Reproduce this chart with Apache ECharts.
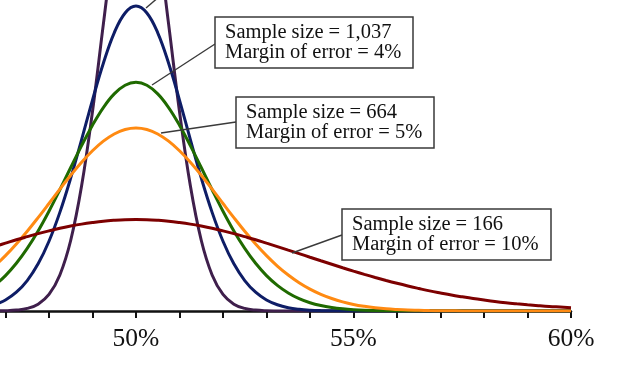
<!DOCTYPE html>
<html>
<head>
<meta charset="utf-8">
<script src="https://cdn.jsdelivr.net/npm/echarts@6/dist/echarts.min.js"></script>
<style>html,body{margin:0;padding:0;background:#fff}#c{width:620px;height:372px}</style>
</head>
<body>
<div id="c"></div>
<script>
// x positions (percent)
var xs = [46.75,47,47.25,47.5,47.75,48,48.25,48.5,48.75,49,49.25,49.5,49.75,
  50,50.25,50.5,50.75,51,51.25,51.5,51.75,52,52.25,52.5,52.75,53,53.25,53.5,53.75,
  54,54.25,54.5,54.75,55,55.25,55.5,55.75,56,56.25,56.5,56.75,57,57.25,57.5,57.75,
  58,58.25,58.5,58.75,59,59.25,59.5,59.75,60];

// relative likelihood (density per percentage point)
var n166 = [0.0724,0.0762,0.0800,0.0835,0.0869,0.0900,0.0929,0.0954,0.0976,0.0994,0.1009,0.1019,0.1026,
  0.1028,0.1026,0.1019,0.1009,0.0994,0.0976,0.0954,0.0929,0.0900,0.0869,0.0835,0.0800,0.0762,0.0724,0.0684,0.0645,
  0.0604,0.0564,0.0525,0.0486,0.0448,0.0412,0.0377,0.0343,0.0311,0.0281,0.0253,0.0226,0.0202,0.0179,0.0159,0.0140,
  0.0123,0.0107,0.0093,0.0081,0.0070,0.0060,0.0051,0.0044,0.0037];
var n664 = [0.0505,0.0622,0.0753,0.0896,0.1049,0.1208,0.1369,0.1525,0.1671,0.1800,0.1908,0.1989,0.2039,
  0.2056,0.2039,0.1989,0.1908,0.1800,0.1671,0.1525,0.1369,0.1208,0.1049,0.0896,0.0753,0.0622,0.0505,0.0404,0.0317,
  0.0245,0.0186,0.0140,0.0103,0.0074,0.0053,0.0037,0.0025,0.0017,0.0011,0.0008,0.0005,0.0003,0.0002,0.0001,0.0001,
  0,0,0,0,0,0,0,0,0];
var n1037 = [0.0288,0.0398,0.0536,0.0703,0.0899,0.1121,0.1362,0.1612,0.1858,0.2088,0.2286,0.2439,0.2536,
  0.2569,0.2536,0.2439,0.2286,0.2088,0.1858,0.1612,0.1362,0.1121,0.0899,0.0703,0.0536,0.0398,0.0288,0.0203,0.0139,
  0.0093,0.0061,0.0039,0.0024,0.0014,0.0008,0.0005,0.0003,0.0001,0,0,0,0,0,0,0,
  0,0,0,0,0,0,0,0,0];
var n1843 = [0.0070,0.0124,0.0211,0.0342,0.0530,0.0784,0.1108,0.1495,0.1926,0.2370,0.2784,0.3125,0.3348,
  0.3426,0.3348,0.3125,0.2784,0.2370,0.1926,0.1495,0.1108,0.0784,0.0530,0.0342,0.0211,0.0124,0.0070,0.0037,0.0019,
  0.0009,0.0004,0.0002,0.0001,0,0,0,0,0,0,0,0,0,0,0,0,
  0,0,0,0,0,0,0,0,0];
var n4147 = [0.0001,0.0003,0.0010,0.0029,0.0077,0.0186,0.0405,0.0795,0.1406,0.2242,0.3223,0.4176,0.4879,
  0.5139,0.4879,0.4176,0.3223,0.2242,0.1406,0.0795,0.0405,0.0186,0.0077,0.0029,0.0010,0.0003,0.0001,0,0,
  0,0,0,0,0,0,0,0,0,0,0,0,0,0,0,0,
  0,0,0,0,0,0,0,0,0];

var tickValues = [47,48,49,50,51,52,53,54,55,56,57,58,59,60];
var labelValues = [50,55,60];
var notes = [
  'Sample size = 1,037\nMargin of error = 4%',
  'Sample size = 664\nMargin of error = 5%',
  'Sample size = 166\nMargin of error = 10%'
];

function pairs(ys){ return xs.map(function(x,i){ return [x, ys[i]]; }); }

var chart = echarts.init(document.getElementById('c'), null, {renderer:'canvas'});
var serif = '"Liberation Serif", "Times New Roman", serif';
function line(name, ys, color){
  return {type:'line', name:name, data:pairs(ys), showSymbol:false, symbol:'none',
    smooth:0.4, clip:true, lineStyle:{width:3, color:color}, itemStyle:{color:color}};
}
function note(txt, x, y, w, h){
  return {type:'group', children:[
    {type:'rect', shape:{x:x, y:y, width:w, height:h}, style:{fill:'#fff', stroke:'#3a3a3a', lineWidth:1.5}, z:100},
    {type:'text', x:x+10, y:y+6, style:{text:txt, font:'20.5px ' + serif, fill:'#111', lineHeight:20, verticalAlign:'top'}, z:101}
  ]};
}
function lead(x1,y1,x2,y2){
  return {type:'line', shape:{x1:x1,y1:y1,x2:x2,y2:y2}, style:{stroke:'#3a3a3a', lineWidth:1.4}, z:99};
}
chart.setOption({
  animation:false,
  grid:{left:0, top:0, width:571, height:311},
  xAxis:{type:'value', min:46.874, max:60,
    axisLine:{show:true, lineStyle:{color:'#111', width:2.5}},
    axisTick:{show:true, customValues:tickValues, length:7, lineStyle:{color:'#111', width:2}},
    axisLabel:{show:true, customValues:labelValues, formatter:function(v){return v+'%';},
      fontFamily:serif, fontSize:25.5, color:'#111', margin:15},
    splitLine:{show:false}},
  yAxis:{type:'value', min:0, max:0.3494, show:false, splitLine:{show:false}},
  series:[
    line('4,147', n4147, '#3f1f4c'),
    line('1,843', n1843, '#0e1d66'),
    line('1,037', n1037, '#1f6a00'),
    line('664', n664, '#ff8a12'),
    line('166', n166, '#7d0000')
  ],
  graphic:[
    lead(146,8,160,-4),
    lead(215,44,152,85),
    lead(236,122,161,133),
    lead(342,235,292,253),
    note(notes[0], 215, 17, 198, 51),
    note(notes[1], 236, 97, 198, 51),
    note(notes[2], 342, 209, 209, 51)
  ]
});
</script>
</body>
</html>
